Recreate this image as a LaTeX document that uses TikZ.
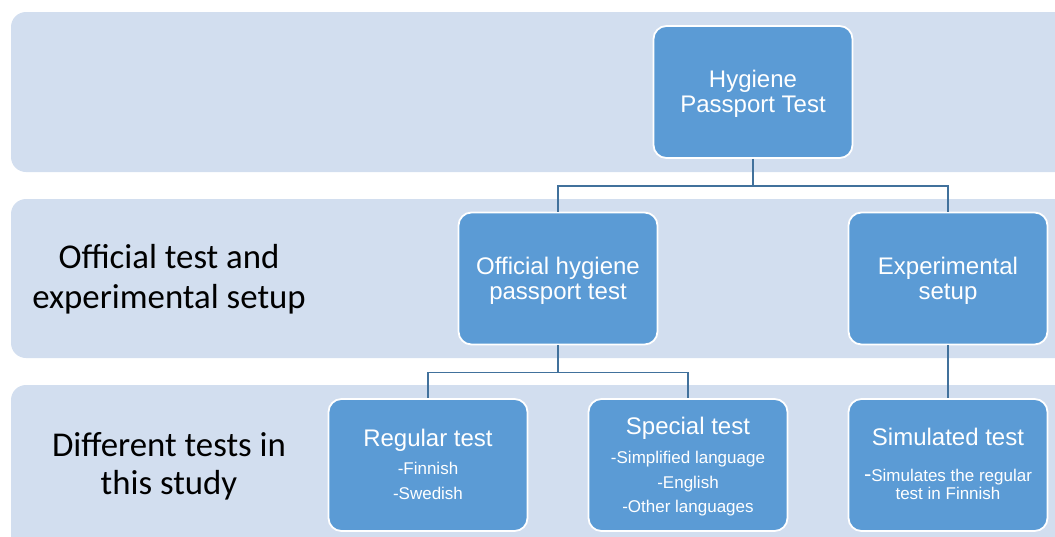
\documentclass[tikz,border=0pt]{standalone}
\usepackage{fontspec}
\setmainfont{Liberation Sans}
\newfontfamily\lblfont{Carlito}
\usetikzlibrary{calc}
\definecolor{bandc}{RGB}{210,222,239}
\definecolor{boxc}{RGB}{91,155,213}
\definecolor{linec}{RGB}{65,113,156}
\tikzset{
  band/.style={fill=bandc, draw=none, rounded corners=15pt},
  box/.style={rectangle, fill=boxc, draw=white, line width=1.8pt, rounded corners=13pt,
    minimum width=199pt, minimum height=132pt, inner sep=0pt},
  ttl/.style={anchor=base, text=white, inner sep=0pt, font=\fontsize{24}{25}\selectfont},
  sub/.style={anchor=base, text=white, inner sep=0pt, font=\fontsize{17}{20}\selectfont},
  lbl/.style={anchor=base, text=black, inner sep=0pt, font=\lblfont\fontsize{34.8}{40}\selectfont},
  conn/.style={draw=linec, line width=1.8pt}
}
\begin{document}
\begin{tikzpicture}[x=1pt,y=-1pt]
\useasboundingbox (0,0) rectangle (1055,536);
% bands
\fill[band] (11,12) rectangle (1080,172);
\fill[band] (11,199) rectangle (1080,358);
\fill[band] (11,385) rectangle (1080,560);
% boxes
\node[box] (hyg) at (753,92) {};
\node[box] (off) at (558,278.5) {};
\node[box] (exp) at (948,278.5) {};
\node[box] (reg) at (428,465) {};
\node[box] (spe) at (688,465) {};
\node[box] (sim) at (948,465) {};
% connectors
\draw[conn] (hyg.south) -- ($(hyg.south)+(0,27)$) -| (off.north);
\draw[conn] ($(hyg.south)+(0,27)$) -| (exp.north);
\draw[conn] (off.south) -- ($(off.south)+(0,27)$) -| (reg.north);
\draw[conn] ($(off.south)+(0,27)$) -| (spe.north);
\draw[conn] (exp.south) -- (sim.north);
% texts
\node[ttl] (hyg1) at (753,87) {Hygiene};
\node[ttl] (hyg2) at (753,112) {Passport Test};
\node[ttl] (off1) at (558,274) {Official hygiene};
\node[ttl] (off2) at (558,299) {passport test};
\node[ttl] (exp1) at (948,274) {Experimental};
\node[ttl] (exp2) at (948,299) {setup};
\node[ttl] (reg1) at (428,446) {Regular test};
\node[sub] (reg2) at (428,474) {-Finnish};
\node[sub] (reg3) at (428,499) {-Swedish};
\node[ttl] (spe1) at (688,434) {Special test};
\node[sub] (spe2) at (688,463) {-Simplified language};
\node[sub] (spe3) at (688,488) {-English};
\node[sub] (spe4) at (688,512.5) {-Other languages};
\node[ttl] (sim1) at (948,445) {Simulated test};
\node[sub] (sim2) at (948,481) {{\fontsize{22}{22}\selectfont -}Simulates the regular};
\node[sub] (sim3) at (948,499) {test in Finnish};
% left labels
\node[lbl] (l1a) at (169,268) {Official test and};
\node[lbl] (l1b) at (169,308) {experimental setup};
\node[lbl] (l2a) at (169,456) {Different tests in};
\node[lbl] (l2b) at (169,494) {this study};
\end{tikzpicture}
\end{document}
